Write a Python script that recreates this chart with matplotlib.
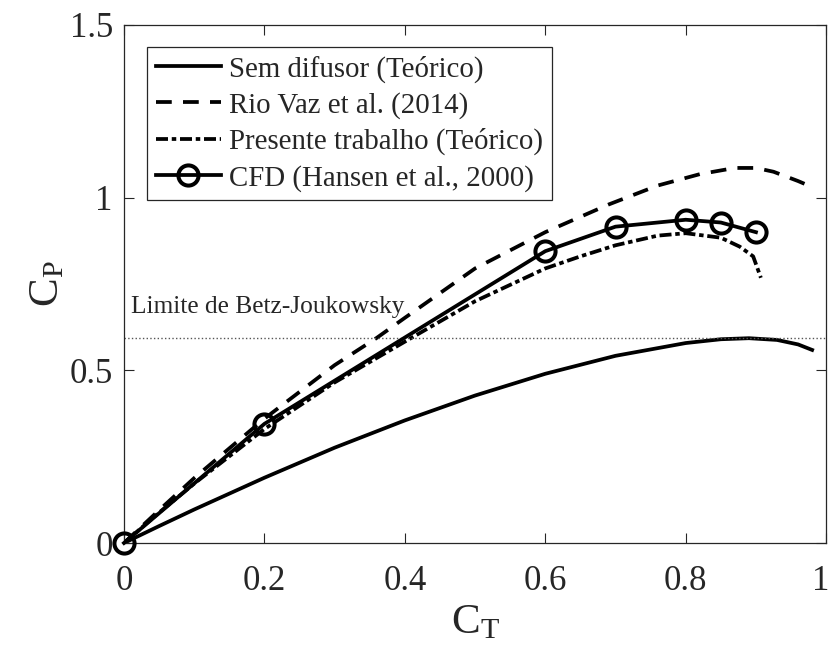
import matplotlib
matplotlib.use("Agg")
import matplotlib.pyplot as plt
import matplotlib.transforms as mtransforms

# curvas
ct_sem = [0, 0.05, 0.1, 0.2, 0.3, 0.4, 0.5, 0.6, 0.7, 0.8, 0.85, 0.89, 0.93, 0.96, 0.98]
cp_sem = [0, 0.049, 0.097, 0.189, 0.276, 0.355, 0.427, 0.49, 0.542, 0.579, 0.590, 0.593, 0.588, 0.575, 0.559]

ct_rio = [0, 0.05, 0.1, 0.2, 0.3, 0.36, 0.4, 0.5, 0.6, 0.69, 0.76, 0.82, 0.87, 0.9, 0.925, 0.96, 0.975]
cp_rio = [0, 0.095, 0.188, 0.36, 0.515, 0.594, 0.652, 0.795, 0.90, 0.98, 1.035, 1.068, 1.086, 1.086, 1.075, 1.048, 1.035]

ct_pt = [0, 0.05, 0.1, 0.2, 0.3, 0.4, 0.5, 0.6, 0.65, 0.7, 0.76, 0.8, 0.85, 0.877, 0.896, 0.907]
cp_pt = [0, 0.088, 0.172, 0.33, 0.465, 0.583, 0.70, 0.795, 0.83, 0.862, 0.89, 0.897, 0.884, 0.858, 0.83, 0.768]

ct_cfd = [0, 0.2, 0.6, 0.7, 0.8, 0.85, 0.9]
cp_cfd = [0, 0.345, 0.845, 0.916, 0.936, 0.928, 0.9]

betz = 16 / 27.0

plt.rcParams['font.family'] = ['Liberation Serif', 'DejaVu Serif']
plt.rcParams['mathtext.default'] = 'regular'
txt = '#262626'

fig = plt.figure(figsize=(8.32, 6.5), dpi=100)
ax = fig.add_axes([0.149, 0.1646, 0.844, 0.797])

lw = 2.7
ax.plot(ct_sem, cp_sem, '-', color='k', lw=lw, label='Sem difusor (Teórico)')
ax.plot(ct_rio, cp_rio, color='k', lw=lw, linestyle=(0, (4.2, 3.0)), label='Rio Vaz et al. (2014)')
ax.plot(ct_pt, cp_pt, color='k', lw=lw, linestyle=(0, (3.2, 1.0, 1.2, 1.0)), label='Presente trabalho (Teórico)')
ax.plot(ct_cfd, cp_cfd, '-o', color='k', lw=lw, markersize=14.5, markeredgewidth=2.9,
        markerfacecolor='none', clip_on=False, zorder=5, label='CFD (Hansen et al., 2000)')

ax.plot([0, 1], [betz, betz], ':', color='#555555', lw=1.0)
ax.text(0.01, 0.665, 'Limite de Betz-Joukowsky', fontsize=18.3, color=txt, va='baseline')

ax.set_xlim(0, 1)
ax.set_ylim(0, 1.5)
ax.set_xticks([0, 0.2, 0.4, 0.6, 0.8, 1])
ax.set_xticklabels(['0', '0.2', '0.4', '0.6', '0.8', '1'])
ax.set_yticks([0, 0.5, 1, 1.5])
ax.set_yticklabels(['0', '0.5', '1', '1.5'])
ax.tick_params(direction='in', top=True, right=True, length=7, width=0.8,
               labelsize=25, colors=txt)
ax.tick_params(axis='x', pad=16)
ax.tick_params(axis='y', pad=8)
# o "1" fica encostado na borda direita
last = ax.get_xticklabels()[-1]
last.set_transform(last.get_transform() + mtransforms.ScaledTranslation(-5 / 100, 0, fig.dpi_scale_trans))
for s in ax.spines.values():
    s.set_color(txt)
    s.set_linewidth(0.9)

ax.set_xlabel('$C_T$', fontsize=31, color=txt, labelpad=4)
ax.set_ylabel('$C_P$', fontsize=31, color=txt, labelpad=2)

leg = ax.legend(loc='upper left', bbox_to_anchor=(0.033, 0.958), fontsize=20.8,
                handlelength=2.25, handletextpad=0.3, borderpad=0.3, labelspacing=0.32,
                fancybox=False, framealpha=1, borderaxespad=0)
leg.get_frame().set_edgecolor(txt)
leg.get_frame().set_linewidth(0.9)
for t in leg.get_texts():
    t.set_color(txt)

fig.savefig('out.png', dpi=100)
